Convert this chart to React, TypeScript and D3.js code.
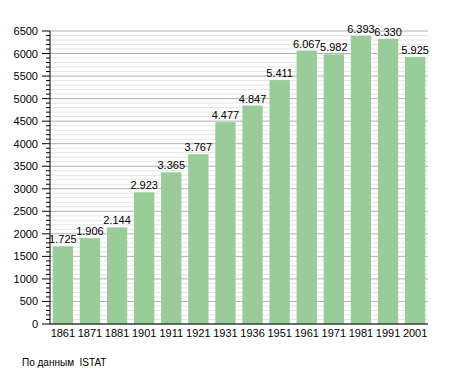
import React from 'react';
import * as d3 from 'd3';

const years = ['1861', '1871', '1881', '1901', '1911', '1921', '1931', '1936', '1951', '1961', '1971', '1981', '1991', '2001'];
const population = [1725, 1906, 2144, 2923, 3365, 3767, 4477, 4847, 5411, 6067, 5982, 6393, 6330, 5925];
const yTicks = [0, 500, 1000, 1500, 2000, 2500, 3000, 3500, 4000, 4500, 5000, 5500, 6000, 6500];
const sourceNote = 'По данным  ISTAT';

const W = 455, H = 373;
const left = 50, right = 428, top = 31, bottom = 324;
const font = '"Liberation Sans", Arial, sans-serif';

export default function App() {
  const x = d3.scaleBand<string>().domain(years).range([left, right]).paddingInner(0.25).paddingOuter(0.1);
  const y = d3.scaleLinear().domain([0, 6500]).range([bottom, top]);
  const minor = d3.range(0, 6501, 100).filter((v) => v % 500 !== 0);
  const fmt = (v: number) => d3.format(',')(v).replace(',', '.');

  return (
    <svg width={W} height={H} style={{ position: 'absolute', left: 0, top: 0 }} fontFamily={font}>
      <rect width={W} height={H} fill="#fff" />
      {minor.map((v) => (
        <line key={'m' + v} x1={left} x2={right} y1={y(v)} y2={y(v)} stroke="#e4e4e4" strokeWidth={1} />
      ))}
      {yTicks.map((v) => (
        <line key={'g' + v} x1={left} x2={right} y1={y(v)} y2={y(v)} stroke="#b0b0b0" strokeWidth={1} />
      ))}
      {years.map((yr, i) => (
        <rect key={yr} x={x(yr)} y={y(population[i])} width={x.bandwidth()} height={bottom - y(population[i])} fill="#99cc99" />
      ))}
      {years.map((yr, i) => (
        <text key={'v' + yr} x={(x(yr) as number) + x.bandwidth() / 2} y={y(population[i]) - 3} textAnchor="middle" fontSize={11} fill="#000">
          {fmt(population[i])}
        </text>
      ))}
      <line x1={left} x2={left} y1={top} y2={bottom} stroke="#000" strokeWidth={1} />
      <line x1={left} x2={right} y1={bottom} y2={bottom} stroke="#000" strokeWidth={1} />
      {minor.map((v) => (
        <line key={'mt' + v} x1={left - 4} x2={left} y1={y(v)} y2={y(v)} stroke="#000" strokeWidth={1} />
      ))}
      {yTicks.map((v) => (
        <g key={'t' + v}>
          <line x1={left - 8} x2={left} y1={y(v)} y2={y(v)} stroke="#000" strokeWidth={1} />
          <text x={38} y={y(v) + 4} textAnchor="end" fontSize={11} fill="#000">{v}</text>
        </g>
      ))}
      {years.map((yr) => (
        <text key={'x' + yr} x={(x(yr) as number) + x.bandwidth() / 2} y={bottom + 13} textAnchor="middle" fontSize={11} fill="#000">
          {yr}
        </text>
      ))}
      <text x={22} y={366} fontSize={10} fill="#000" style={{ whiteSpace: 'pre' }}>{sourceNote}</text>
    </svg>
  );
}
